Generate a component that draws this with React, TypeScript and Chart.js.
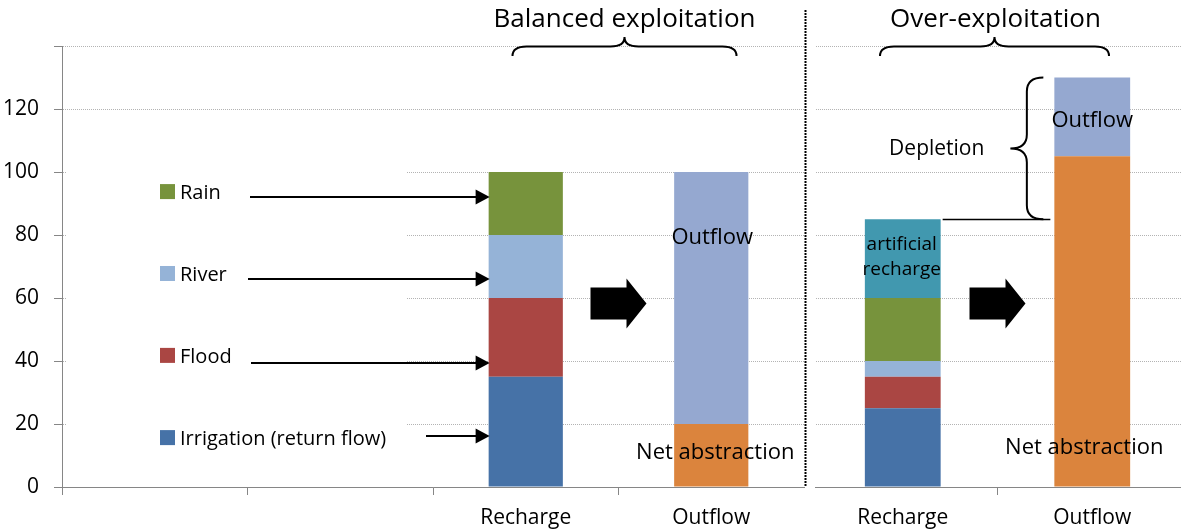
import React, { useEffect, useRef } from 'react';
import { Chart, registerables } from 'chart.js';

Chart.register(...registerables);

// ---- data ----
const categories = ['', '', 'Recharge', 'Outflow', 'Recharge', 'Outflow'];
const irrigation = [null, null, 35, null, 25, null];
const flood = [null, null, 25, null, 10, null];
const river = [null, null, 20, null, 5, null];
const rain = [null, null, 20, null, 20, null];
const artificialRecharge = [null, null, null, null, 25, null];
const netAbstraction = [null, null, null, 20, null, 105];
const outflow = [null, null, null, 80, null, 25];
const yTicks = [0, 20, 40, 60, 80, 100, 120, 140];
const panelTitles = ['Balanced exploitation', 'Over-exploitation'];
const legendNames = ['Rain', 'River', 'Flood', 'Irrigation (return flow)'];

const FONT = '"Open Sans", "DejaVu Sans", sans-serif';
const AXIS_GRAY = '#868686';

const series = [
  { name: 'Irrigation (return flow)', data: irrigation, color: '#4672A7' },
  { name: 'Flood', data: flood, color: '#AA4643' },
  { name: 'River', data: river, color: '#95B3D7' },
  { name: 'Rain', data: rain, color: '#77933C' },
  { name: 'artificial recharge', data: artificialRecharge, color: '#4198AF' },
  { name: 'Net abstraction', data: netAbstraction, color: '#DB843D' },
  { name: 'Outflow', data: outflow, color: '#95A8D0' },
];

const colorOf = (name: string) => series.find((s) => s.name === name)!.color;

// ---- drawing helpers ----
function braceH(ctx: CanvasRenderingContext2D, xc: number, half: number, yTop: number, yBot: number) {
  const x1 = xc - half;
  const x2 = xc + half;
  const ym = (yTop + yBot) / 2;
  const r = 14;
  ctx.beginPath();
  ctx.moveTo(x1, yBot);
  ctx.quadraticCurveTo(x1, ym, x1 + r, ym);
  ctx.lineTo(xc - r, ym);
  ctx.quadraticCurveTo(xc, ym, xc, yTop);
  ctx.quadraticCurveTo(xc, ym, xc + r, ym);
  ctx.lineTo(x2 - r, ym);
  ctx.quadraticCurveTo(x2, ym, x2, yBot);
  ctx.stroke();
}

function braceV(ctx: CanvasRenderingContext2D, xTip: number, xPoint: number, yTop: number, yBot: number) {
  const xm = (xTip + xPoint) / 2;
  const yc = (yTop + yBot) / 2;
  const r = 14;
  ctx.beginPath();
  ctx.moveTo(xTip, yTop);
  ctx.quadraticCurveTo(xm, yTop, xm, yTop + r);
  ctx.lineTo(xm, yc - r);
  ctx.quadraticCurveTo(xm, yc, xPoint, yc);
  ctx.quadraticCurveTo(xm, yc, xm, yc + r);
  ctx.lineTo(xm, yBot - r);
  ctx.quadraticCurveTo(xm, yBot, xTip, yBot);
  ctx.stroke();
}

function fatArrow(ctx: CanvasRenderingContext2D, xc: number, yc: number) {
  const x0 = xc - 28;
  const xh = xc + 8;
  const x1 = xc + 28;
  ctx.beginPath();
  ctx.moveTo(x0, yc - 16);
  ctx.lineTo(xh, yc - 16);
  ctx.lineTo(xh, yc - 25);
  ctx.lineTo(x1, yc);
  ctx.lineTo(xh, yc + 25);
  ctx.lineTo(xh, yc + 16);
  ctx.lineTo(x0, yc + 16);
  ctx.closePath();
  ctx.fillStyle = '#000';
  ctx.fill();
}

function thinArrow(ctx: CanvasRenderingContext2D, x0: number, x1: number, y: number) {
  ctx.beginPath();
  ctx.moveTo(x0, y);
  ctx.lineTo(x1 - 12, y);
  ctx.lineWidth = 2;
  ctx.strokeStyle = '#000';
  ctx.stroke();
  ctx.beginPath();
  ctx.moveTo(x1, y);
  ctx.lineTo(x1 - 14, y - 7.5);
  ctx.lineTo(x1 - 14, y + 7.5);
  ctx.closePath();
  ctx.fillStyle = '#000';
  ctx.fill();
}

function text(ctx: CanvasRenderingContext2D, s: string, x: number, y: number, size: number, align: CanvasTextAlign = 'center') {
  ctx.font = `${size}px ${FONT}`;
  ctx.fillStyle = '#000';
  ctx.textAlign = align;
  ctx.textBaseline = 'alphabetic';
  ctx.fillText(s, x, y);
}

// ---- panel config ----
function makeConfig(start: number, end: number, isLeft: boolean, barPct: number) {
  const labels = categories.slice(start, end);
  const datasets = series.map((s) => ({
    label: s.name,
    data: s.data.slice(start, end),
    backgroundColor: s.color,
    borderWidth: 0,
    barPercentage: barPct,
    categoryPercentage: 1,
    stack: 'all',
  }));

  const annotate = {
    id: 'annotate' + (isLeft ? 'L' : 'R'),
    beforeDatasetsDraw(chart: any) {
      const { ctx, chartArea: ca, scales } = chart;
      const x = scales.x;
      const y = scales.y;
      ctx.save();
      ctx.fillStyle = '#fff';
      if (isLeft) {
        const top = y.getPixelForValue(104);
        const bot = y.getPixelForValue(8);
        const right = x.getPixelForValue(2) - 119;
        ctx.fillRect(ca.left + 5, top, right - ca.left - 5, bot - top);
      } else {
        // gap between the two panels (grid lines and axis start a little further right)
        ctx.fillRect(0, 0, 7, chart.height);
      }
      ctx.restore();
    },
    afterDatasetsDraw(chart: any) {
      const { ctx, chartArea: ca, scales } = chart;
      const x = scales.x;
      const y = scales.y;
      const catW = x.getPixelForValue(1) - x.getPixelForValue(0);
      const barHalf = (catW * barPct) / 2;
      ctx.save();
      ctx.strokeStyle = '#000';
      ctx.lineWidth = 2;
      if (isLeft) {
        const cR = x.getPixelForValue(2);
        const cO = x.getPixelForValue(3);
        const mid = (cR + cO) / 2;
        // title + brace
        text(ctx, panelTitles[0], mid + 6, 27, 26);
        ctx.strokeStyle = '#000';
        ctx.lineWidth = 2;
        braceH(ctx, mid + 6, 112, 37, 56);
        // legend
        const legendBase = [91.4, 65.4, 39.4, 13.3];
        legendNames.forEach((n, i) => {
          const by = y.getPixelForValue(legendBase[i]);
          ctx.fillStyle = colorOf(n);
          ctx.fillRect(ca.left + 98, by - 15, 15, 15);
          text(ctx, n, ca.left + 118, by, 20, 'left');
        });
        // thin arrows
        const arrowVals = [92.1, 66.0, 39.4, 16.2];
        const arrowStarts = [188, 186, 189, 364];
        arrowVals.forEach((v, i) => {
          thinArrow(ctx, ca.left + arrowStarts[i], cR - barHalf + 1, Math.round(y.getPixelForValue(v)));
        });
        fatArrow(ctx, mid, y.getPixelForValue(58.25));
        // in-bar labels
        text(ctx, 'Outflow', cO + 1, y.getPixelForValue(77), 22);
        text(ctx, 'Net abstraction', cO + 4, y.getPixelForValue(9), 22);
        // dotted separator
        ctx.beginPath();
        ctx.setLineDash([2, 1]);
        ctx.lineWidth = 2;
        ctx.strokeStyle = '#000';
        ctx.moveTo(ca.right + 1.5, 10);
        ctx.lineTo(ca.right + 1.5, ca.bottom);
        ctx.stroke();
        ctx.setLineDash([]);
      } else {
        const cR = x.getPixelForValue(0);
        const cO = x.getPixelForValue(1);
        const mid = (cR + cO) / 2;
        text(ctx, panelTitles[1], mid - 2, 27, 26);
        ctx.strokeStyle = '#000';
        ctx.lineWidth = 2;
        braceH(ctx, mid - 3, 114.5, 37, 56);
        fatArrow(ctx, mid, y.getPixelForValue(58.25));
        // depletion
        const yTop = y.getPixelForValue(130);
        const y85 = y.getPixelForValue(85);
        const outLeft = cO - barHalf;
        ctx.strokeStyle = '#000';
        ctx.lineWidth = 2;
        braceV(ctx, outLeft - 11, outLeft - 44, yTop, y85);
        ctx.beginPath();
        ctx.lineWidth = 1.5;
        ctx.moveTo(cR + barHalf + 2, Math.round(y85) + 0.5);
        ctx.lineTo(outLeft - 4, Math.round(y85) + 0.5);
        ctx.stroke();
        text(ctx, 'Depletion', cR + 34, y.getPixelForValue(105.4), 21);
        // in-bar labels
        text(ctx, 'Outflow', cO, y.getPixelForValue(114.3), 22);
        text(ctx, 'Net abstraction', cO - 8, y.getPixelForValue(10.5), 22);
        text(ctx, 'artificial', cR - 1, y.getPixelForValue(75.2), 19);
        text(ctx, 'recharge', cR - 1, y.getPixelForValue(67.3), 19);
      }
      ctx.restore();
    },
  };

  return {
    type: 'bar' as const,
    data: { labels, datasets },
    plugins: [annotate],
    options: {
      animation: false as const,
      responsive: false,
      devicePixelRatio: 1,
      layout: { padding: { top: 46, right: isLeft ? 4 : 0, left: 0, bottom: 0 } },
      plugins: { legend: { display: false }, tooltip: { enabled: false }, title: { display: false } },
      scales: {
        x: {
          type: 'category' as const,
          stacked: true,
          grid: {
            drawOnChartArea: false,
            drawTicks: true,
            tickLength: 8,
            offset: true,
            tickColor: (c: any) =>
              isLeft ? (c.index <= 3 ? AXIS_GRAY : 'rgba(0,0,0,0)') : c.index === 1 ? AXIS_GRAY : 'rgba(0,0,0,0)',
          },
          border: { display: true, color: AXIS_GRAY, width: 1 },
          ticks: {
            color: '#000',
            font: { family: FONT, size: 21 },
            padding: 10,
            maxRotation: 0,
            autoSkip: false,
          },
          afterFit: (s: any) => {
            s.height = 42;
          },
        },
        y: {
          stacked: true,
          min: 0,
          max: 140,
          afterBuildTicks: (s: any) => {
            s.ticks = yTicks.map((v) => ({ value: v }));
          },
          grid: {
            color: '#b3b3b3',
            tickColor: AXIS_GRAY,
            tickLength: 8,
            drawTicks: isLeft,
          },
          border: { display: isLeft, color: AXIS_GRAY, width: 1, dash: [1, 1] },
          ticks: {
            display: isLeft,
            color: '#000',
            font: { family: FONT, size: 21 },
            padding: 15,
            callback: (v: any) => (v === 140 ? '' : String(v)),
          },
          afterFit: (s: any) => {
            s.width = isLeft ? 62 : 0;
          },
        },
      },
    },
  };
}

function Panel({ left, width, start, end, isLeft, barPct }: any) {
  const ref = useRef<HTMLCanvasElement>(null);
  useEffect(() => {
    const chart = new Chart(ref.current as HTMLCanvasElement, makeConfig(start, end, isLeft, barPct) as any);
    return () => chart.destroy();
  }, []);
  return (
    <canvas
      ref={ref}
      width={width}
      height={529}
      style={{ position: 'absolute', left, top: 0, width, height: 529, display: 'block' }}
    />
  );
}

export default function App() {
  return (
    <div style={{ position: 'fixed', left: 0, top: 0, width: 1181, height: 529, background: '#fff', overflow: 'hidden' }}>
      <Panel left={0} width={808} start={0} end={4} isLeft={true} barPct={0.4} />
      <Panel left={808} width={379} start={4} end={6} isLeft={false} barPct={0.4} />
    </div>
  );
}
